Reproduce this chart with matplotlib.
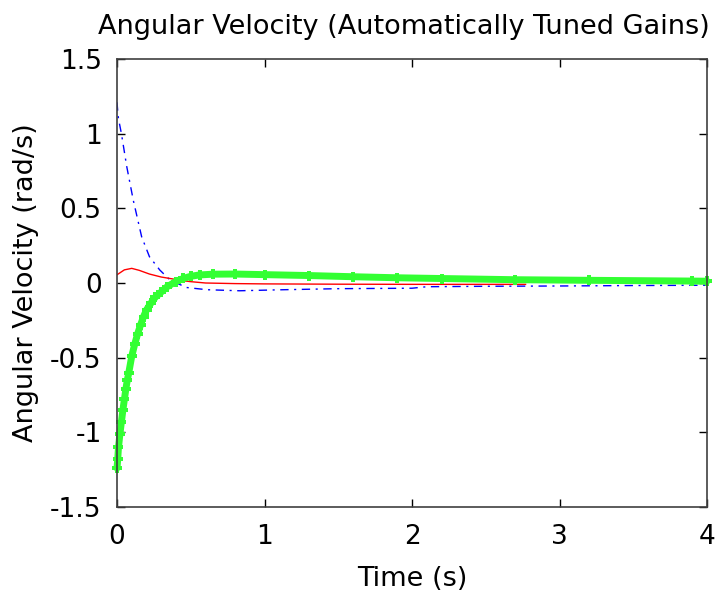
import matplotlib
matplotlib.use("Agg")
import matplotlib.pyplot as plt

plt.rcParams['font.family'] = ['DejaVu Sans']

# Blue dash-dot series
t_blue = [0, 0.005, 0.01, 0.03, 0.066, 0.11, 0.167, 0.22, 0.29, 0.36, 0.47, 0.61, 0.83,
          1.13, 1.5, 2.0, 2.1, 2.5, 3.0, 3.5, 4.0]
v_blue = [1.21, 1.15, 1.10, 1.0, 0.78, 0.556, 0.31, 0.176, 0.087, 0.02, -0.03, -0.045, -0.052,
          -0.045, -0.038, -0.035, -0.025, -0.022, -0.02, -0.017, -0.015]

# Red solid series
t_red = [0, 0.05, 0.1, 0.15, 0.22, 0.3, 0.36, 0.45, 0.5, 0.6, 0.8, 1.0, 1.5, 2.0, 2.77]
v_red = [0.055, 0.088, 0.098, 0.085, 0.06, 0.04, 0.03, 0.015, 0.009, 0.0, -0.004, -0.006,
         -0.008, -0.009, -0.009]

# Green marker series
t_green = [0, 0.005, 0.01, 0.02, 0.03, 0.04, 0.05, 0.06, 0.07, 0.08, 0.1, 0.12, 0.14, 0.16,
           0.18, 0.2, 0.23, 0.26, 0.3, 0.34, 0.4, 0.45, 0.5, 0.56, 0.65, 0.8, 1.0, 1.3, 1.6,
           1.9, 2.2, 2.7, 3.2, 3.9, 4.0]
v_green = [-1.24, -1.18, -1.10, -1.01, -0.93, -0.85, -0.78, -0.71, -0.65, -0.60, -0.49, -0.41,
           -0.34, -0.28, -0.225, -0.18, -0.135, -0.095, -0.06, -0.025, 0.01, 0.031, 0.045,
           0.054, 0.059, 0.06, 0.056, 0.05, 0.042, 0.035, 0.03, 0.022, 0.018, 0.013, 0.012]

x_ticks = [0, 1, 2, 3, 4]
y_ticks = [-1.5, -1, -0.5, 0, 0.5, 1, 1.5]
y_tick_labels = ['-1.5', '-1', '-0.5', '0', '0.5', '1', '1.5']

fig = plt.figure(figsize=(7.2, 5.98), dpi=100)
ax = fig.add_axes([117/720, 1-507/598, (707-117)/720, (507-59)/598])

ax.plot(t_blue, v_blue, color='#0000ff', linestyle='-.', linewidth=1.0, dashes=(6, 4, 1.5, 4))
ax.plot(t_red, v_red, color='#ff0000', linestyle='-', linewidth=1.0)
ax.plot(t_green, v_green, color='#33ff33', linestyle='-', linewidth=5,
        marker='P', markersize=7, markeredgewidth=0, clip_on=False, solid_capstyle='round')

ax.set_xlim(0, 4)
ax.set_ylim(-1.5, 1.5)
ax.set_xticks(x_ticks)
ax.set_yticks(y_ticks)
ax.set_yticklabels(y_tick_labels)
ax.tick_params(direction='in', length=6, width=1, top=True, right=True,
               labelsize=19, colors='black')
ax.tick_params(axis='x', pad=12)
ax.tick_params(axis='y', pad=11)
for s in ax.spines.values():
    s.set_linewidth(1.2)
    s.set_color('#404040')

fig.text(404/720, 1-34/598, 'Angular Velocity (Automatically Tuned Gains)',
         fontsize=19.5, ha='center', va='baseline')
ax.set_xlabel('Time (s)', fontsize=19.5, labelpad=12)
ax.set_ylabel('Angular Velocity (rad/s)', fontsize=19.5, labelpad=8)

fig.savefig('out.png', dpi=100)
